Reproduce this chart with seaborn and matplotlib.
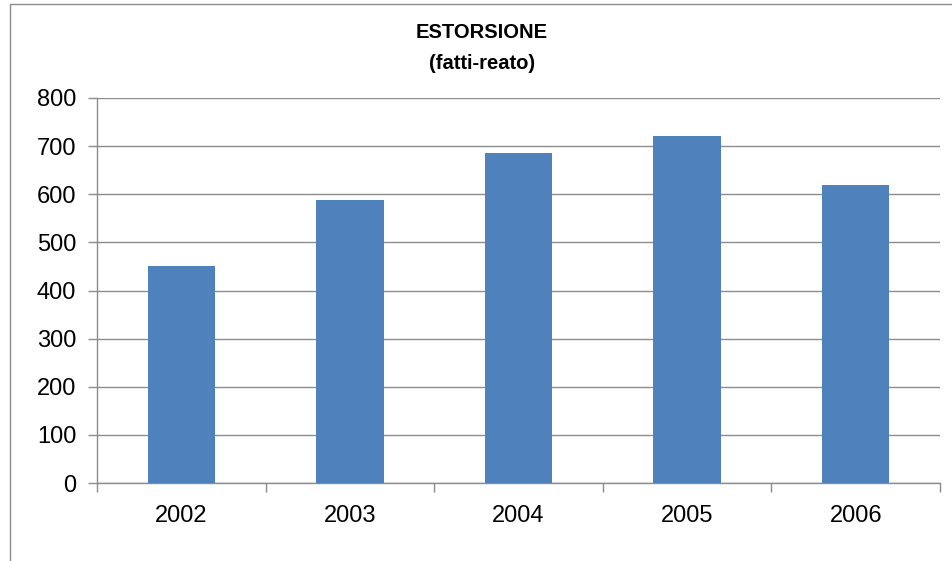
import seaborn as sns
import matplotlib.pyplot as plt
from matplotlib.lines import Line2D
import pandas as pd
import numpy as np

anni = ['2002', '2003', '2004', '2005', '2006']
fatti_reato = [450, 588, 686, 721, 619]
y_ticks = [0, 100, 200, 300, 400, 500, 600, 700, 800]

df = pd.DataFrame({'anno': anni, 'valore': fatti_reato})

sns.set_style('white')
plt.rcParams['font.family'] = ['Liberation Sans', 'DejaVu Sans']
plt.rcParams['text.color'] = 'black'
plt.rcParams['xtick.color'] = 'black'
plt.rcParams['ytick.color'] = 'black'

fig = plt.figure(figsize=(9.52, 5.61), dpi=100)
ax = fig.add_axes([97 / 952, (561 - 483) / 561, (940 - 97) / 952, (483 - 98) / 561])

sns.barplot(data=df, x='anno', y='valore', color='#4F81BD', width=0.4,
            saturation=1, ax=ax, zorder=3, linewidth=0, edgecolor='none')

grid_col = '#8c8c8c'
ax.set_ylim(0, 800)
ax.set_xlim(-0.5, 4.5)
ax.set_yticks(y_ticks)
ax.set_yticklabels([str(v) for v in y_ticks], fontsize=17)
ax.set_xticks(range(len(anni)))
ax.set_xticklabels(anni, fontsize=17)
ax.set_xticks(np.arange(-0.5, len(anni), 1.0), minor=True)
ax.yaxis.grid(True, color=grid_col, linewidth=1)
ax.set_axisbelow(True)
ax.set_xlabel('')
ax.set_ylabel('')
for side in ['top', 'right']:
    ax.spines[side].set_visible(False)
for side in ['left', 'bottom']:
    ax.spines[side].set_color(grid_col)
    ax.spines[side].set_linewidth(1)
ax.tick_params(axis='y', which='major', length=6.5, color=grid_col, width=1, pad=8.5, left=True)
ax.tick_params(axis='x', which='major', length=0, pad=16)
ax.tick_params(axis='x', which='minor', length=6.5, color=grid_col, width=1, bottom=True)

fig.text(482 / 952, 1 - 32 / 561, 'ESTORSIONE', ha='center', va='center',
         fontsize=14.5, fontweight='bold')
fig.text(482 / 952, 1 - 64 / 561, '(fatti-reato)', ha='center', va='center',
         fontsize=14.5, fontweight='bold')

# chart frame (top and left edge)
fig.add_artist(Line2D([10 / 952, 1.0], [1 - 4 / 561, 1 - 4 / 561], color=grid_col, linewidth=1))
fig.add_artist(Line2D([10 / 952, 10 / 952], [0, 1 - 4 / 561], color=grid_col, linewidth=1))

fig.savefig('out.png', dpi=100)
